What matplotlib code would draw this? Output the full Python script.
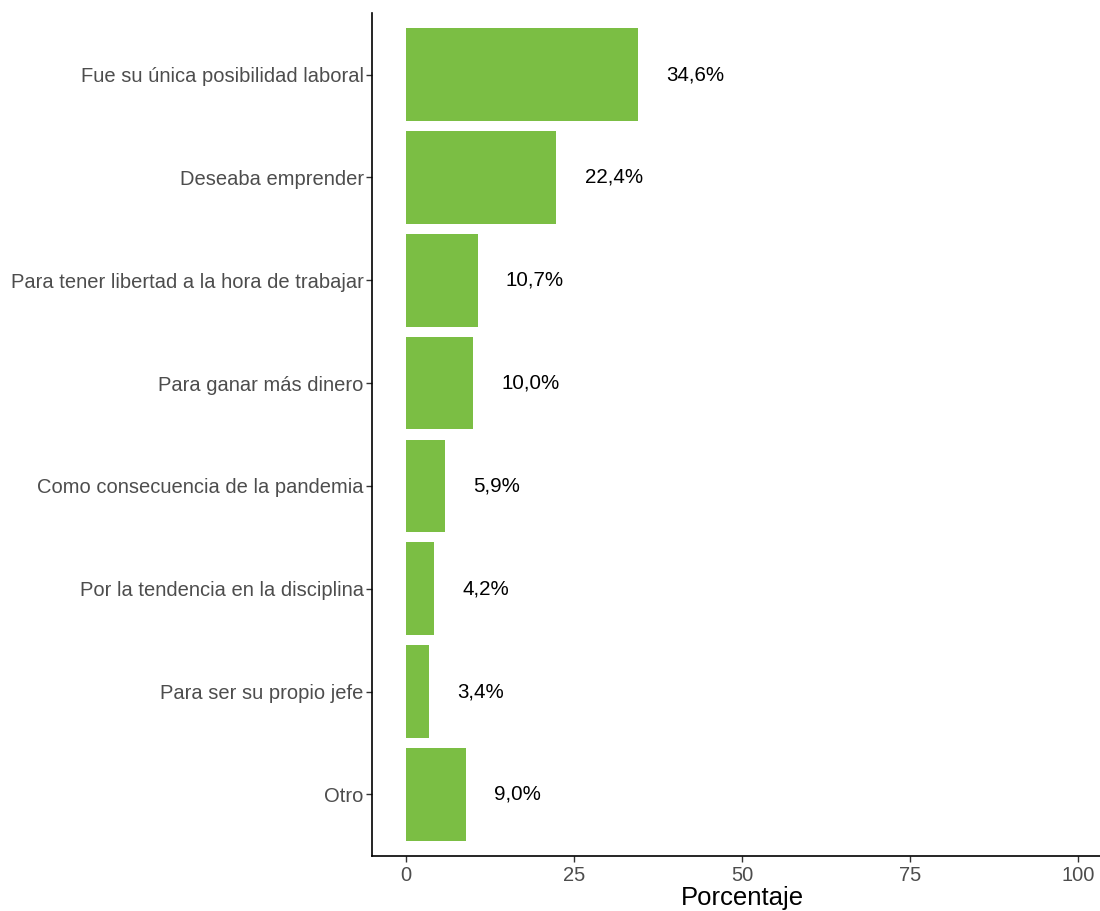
import matplotlib
matplotlib.use("Agg")
import matplotlib.pyplot as plt

categories = ["Fue su única posibilidad laboral", "Deseaba emprender",
              "Para tener libertad a la hora de trabajar", "Para ganar más dinero",
              "Como consecuencia de la pandemia", "Por la tendencia en la disciplina",
              "Para ser su propio jefe", "Otro"]
values = [34.6, 22.4, 10.7, 10.0, 5.9, 4.2, 3.4, 9.0]
xticks = [0, 25, 50, 75, 100]

plt.rcParams['font.family'] = ['Liberation Sans', 'DejaVu Sans']

fig = plt.figure(figsize=(11, 9.11), dpi=100)
W, H = 1100, 911
left, right, top, bottom = 372, 1112, 13, 856
ax = fig.add_axes([left / W, 1 - bottom / H, (right - left) / W, (bottom - top) / H])

n = len(categories)
ypos = list(range(n))
ax.barh(ypos, values, height=0.9, color="#7BBE44")
for y, v in zip(ypos, values):
    ax.text(v + 4.2, y, f"{v:.1f}%".replace(".", ","), va="center", ha="left",
            fontsize=14.8, color="black")

ax.set_ylim(n - 1 + 0.6, -0.6)
ax.set_xlim(-5, 105)
ax.set_yticks(ypos)
ax.set_yticklabels(categories, fontsize=14.5, color="#4D4D4D")
ax.set_xticks(xticks)
ax.set_xticklabels([str(t) for t in xticks], fontsize=14.5, color="#4D4D4D")
ax.tick_params(axis="both", direction="out", length=4, width=1, color="#333333")
ax.tick_params(axis="y", pad=2)
ax.tick_params(axis="x", pad=3)
ax.set_xlabel("Porcentaje", fontsize=18.5, labelpad=1)
for s in ["top", "right"]:
    ax.spines[s].set_visible(False)
for s in ["left", "bottom"]:
    ax.spines[s].set_linewidth(1.2)
    ax.spines[s].set_color("black")

fig.savefig("out.png", dpi=100)
